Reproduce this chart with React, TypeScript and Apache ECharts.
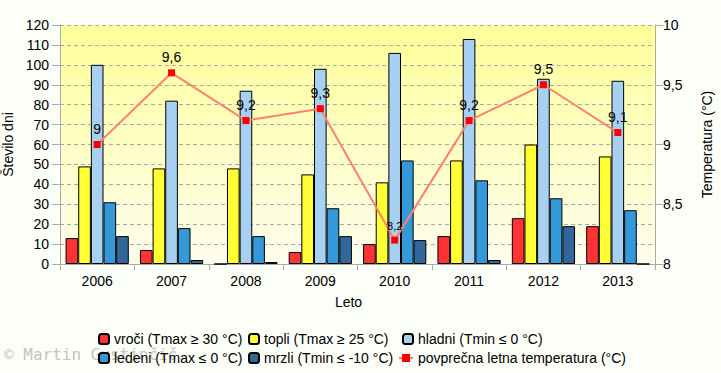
import React, { useEffect, useRef } from "react";
import * as echarts from "echarts";

const years = ["2006", "2007", "2008", "2009", "2010", "2011", "2012", "2013"];
const vroci = [13, 7, 0, 6, 10, 14, 23, 19];
const topli = [49, 48, 48, 45, 41, 52, 60, 54];
const hladni = [100, 82, 87, 98, 106, 113, 93, 92];
const ledeni = [31, 18, 14, 28, 52, 42, 33, 27];
const mrzli = [14, 2, 1, 14, 12, 2, 19, 0];
const temperatura = [9.0, 9.6, 9.2, 9.3, 8.2, 9.2, 9.5, 9.1];

const seriesNames = [
  "vroči (Tmax ≥ 30 °C)",
  "topli (Tmax ≥ 25 °C)",
  "hladni (Tmin ≤ 0 °C)",
  "ledeni (Tmax ≤ 0 °C)",
  "mrzli (Tmin ≤ -10 °C)",
  "povprečna letna temperatura (°C)",
];
const barColors = ["#ff3333", "#ffff33", "#a8d0f2", "#3399d9", "#336699"];
const barData = [vroci, topli, hladni, ledeni, mrzli];

const FONT = "'Liberation Sans', Arial, sans-serif";
const fmt = (v: number) => String(Math.round(v * 10) / 10).replace(".", ",");

export default function App() {
  const ref = useRef<HTMLDivElement>(null);
  useEffect(() => {
    if (!ref.current) return;
    const chart = echarts.init(ref.current, undefined, { renderer: "svg" });
    const legendPos = [
      [98, 332],
      [248, 332],
      [402, 332],
      [98, 351],
      [248, 351],
      [398, 351],
    ];
    const legends = seriesNames.map((n, i) => ({
      data: [n],
      left: legendPos[i][0],
      top: legendPos[i][1],
      orient: "horizontal",
      itemWidth: i === 5 ? 14 : 10,
      itemHeight: 10,
      padding: 0,
      selectedMode: false,
      textStyle: { fontFamily: FONT, fontSize: 14, color: "#000" },
    }));
    const option: any = {
      animation: false,
      backgroundColor: "#fcfef8",
      textStyle: { fontFamily: FONT },
      graphic: [
        {
          type: "text",
          left: 4,
          top: 346,
          z: -10,
          style: {
            text: "© Martin Gustinčič",
            fontFamily: "'DejaVu Sans Mono', monospace",
            fontSize: 16,
            fill: "#c4c4c4",
          },
        },
      ],
      grid: {
        left: 60,
        right: 66,
        top: 25,
        bottom: 109,
        containLabel: false,
        outerBoundsMode: "none",
        show: true,
        borderWidth: 0,
        backgroundColor: new echarts.graphic.LinearGradient(0, 0, 0, 1, [
          { offset: 0, color: "#ffff99" },
          { offset: 1, color: "#fdfdee" },
        ]),
      },
      legend: legends,
      xAxis: {
        type: "category",
        data: years,
        name: "Leto",
        nameLocation: "middle",
        nameGap: 31,
        nameTextStyle: { fontFamily: FONT, fontSize: 14, color: "#000", padding: [0, 18, 0, 0] },
        axisLine: { lineStyle: { color: "#aaaaaa", width: 1 } },
        axisTick: { show: true, length: 6, lineStyle: { color: "#aaaaaa" } },
        axisLabel: { fontFamily: FONT, fontSize: 14, color: "#000", margin: 10 },
      },
      yAxis: [
        {
          type: "value",
          min: 0,
          max: 120,
          interval: 10,
          name: "Število dni",
          nameLocation: "middle",
          nameGap: 44,
          nameRotate: 90,
          nameTextStyle: { fontFamily: FONT, fontSize: 14, color: "#000" },
          axisLine: { show: true, lineStyle: { color: "#aaaaaa" } },
          axisTick: { show: true, length: 8, lineStyle: { color: "#aaaaaa" } },
          axisLabel: { fontFamily: FONT, fontSize: 14, color: "#000", margin: 11 },
          splitLine: { show: true, lineStyle: { color: "#aaaaaa", type: [4, 3], width: 1 } },
        },
        {
          type: "value",
          min: 8,
          max: 10,
          interval: 0.5,
          position: "right",
          name: "Temperatura (°C)",
          nameLocation: "middle",
          nameGap: 45,
          nameRotate: 90,
          nameTextStyle: { fontFamily: FONT, fontSize: 14, color: "#000" },
          axisLine: { show: true, lineStyle: { color: "#aaaaaa" } },
          axisTick: { show: true, length: 8, lineStyle: { color: "#aaaaaa" } },
          axisLabel: { fontFamily: FONT, fontSize: 14, color: "#000", margin: 8, formatter: (v: number) => fmt(v) },
          splitLine: { show: false },
        },
      ],
      series: [
        ...barData.map((d, i) => ({
          name: seriesNames[i],
          type: "bar",
          data: d,
          barGap: "0%",
          barCategoryGap: "15%",
          itemStyle: { color: barColors[i], borderColor: "#000", borderWidth: 1 },
        })),
        {
          name: seriesNames[5],
          type: "line",
          yAxisIndex: 1,
          data: temperatura.map((v, i) => (i === 4 ? { value: v, label: { fontSize: 11 } } : v)),
          symbol: "rect",
          symbolSize: 7,
          z: 5,
          lineStyle: { color: "#ff8070", width: 2 },
          itemStyle: { color: "#ff0000" },
          label: {
            show: true,
            position: "top",
            distance: 5,
            fontFamily: FONT,
            fontSize: 14,
            color: "#000",
            formatter: (p: any) => fmt(p.value),
          },
        },
      ],
    };
    chart.setOption(option);
    return () => chart.dispose();
  }, []);
  return (
    <div
      ref={ref}
      style={{ position: "fixed", left: 0, top: 0, width: 721, height: 373 }}
    />
  );
}
